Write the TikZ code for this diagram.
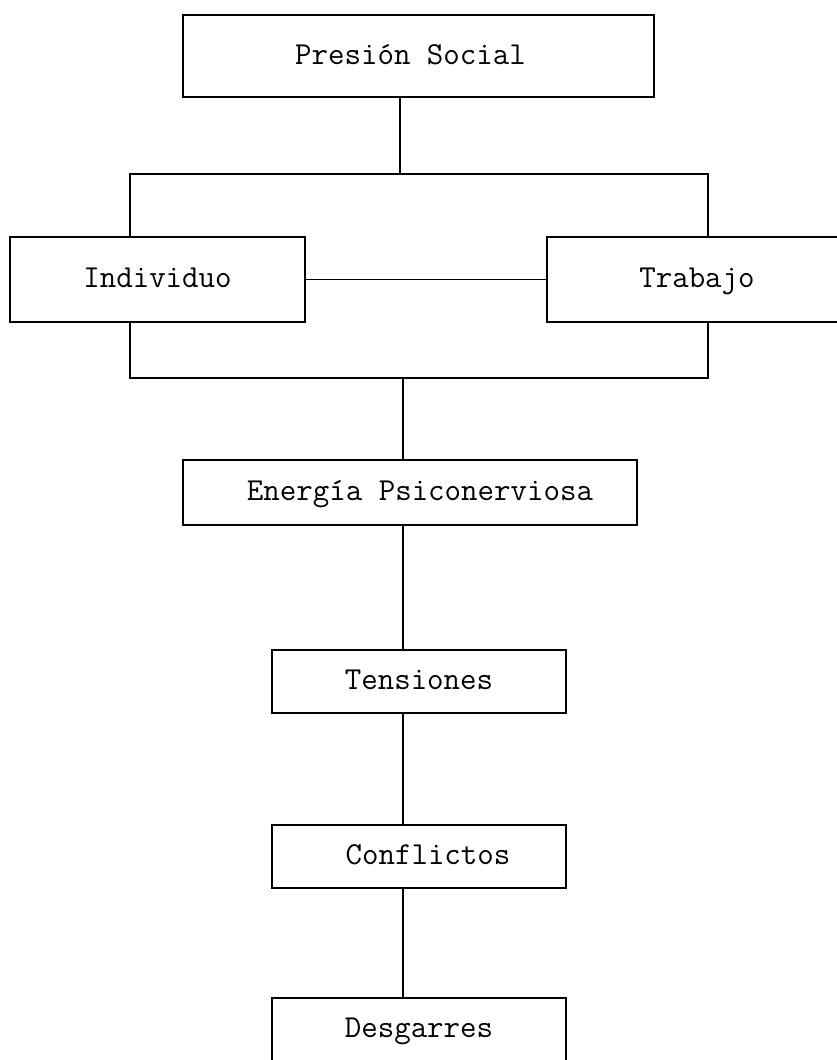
\documentclass[tikz,border=0pt]{standalone}
\usepackage{fontspec}
\begin{document}
\begin{tikzpicture}[x=1pt,y=-1pt,
  box/.style={draw,line width=1.3pt,rectangle,inner sep=0pt,outer sep=0pt,
    text height=20pt,text depth=4pt,
    font=\fontsize{32}{36}\selectfont\ttfamily},
  link/.style={line width=1.3pt}]
\useasboundingbox (0,0) rectangle (837,1060);
\clip (0,0) rectangle (837,1060);

% boxes
\node[box,minimum width=471pt,minimum height=82pt] (ps)   at (418.5,56)   {\hspace*{-16pt}Presión Social};
\node[box,minimum width=295pt,minimum height=85pt] (ind)  at (157.5,279.5) {Individuo};
\node[box,minimum width=300pt,minimum height=85pt] (trab) at (697,279.5)   {Trabajo};
\node[box,minimum width=454pt,minimum height=65pt] (en)   at (410,492.5)   {\hspace*{20pt}Energía Psiconerviosa};
\node[box,minimum width=294pt,minimum height=63pt] (ten)  at (419,681.5)   {Tensiones};
\node[box,minimum width=294pt,minimum height=63pt] (con)  at (419,856.5)   {\hspace*{18pt}Conflictos};
\node[box,minimum width=294pt,minimum height=63pt] (des)  at (419,1029.5)  {Desgarres};

% junction points of the frame around Individuo and Trabajo
\coordinate (jt) at (400,174);
\coordinate (tl) at (130,174);
\coordinate (tr) at (708,174);
\coordinate (jb) at (403,378);
\coordinate (bl) at (130,378);
\coordinate (br) at (708,378);

% connectors
\draw[link] (ps.south -| jt) -- (jt);
\draw[link] (ind.north -| tl) |- (tr) -- (trab.north -| tr);
\draw[link] (ind.south -| bl) |- (br) -- (trab.south -| br);
\draw[link] (ind.east) -- (trab.west);
\draw[link] (jb) -- (en.north -| jb);
\draw[link] (en.south -| jb) -- (ten.north -| jb);
\draw[link] (ten.south -| jb) -- (con.north -| jb);
\draw[link] (con.south -| jb) -- (des.north -| jb);
\end{tikzpicture}
\end{document}
